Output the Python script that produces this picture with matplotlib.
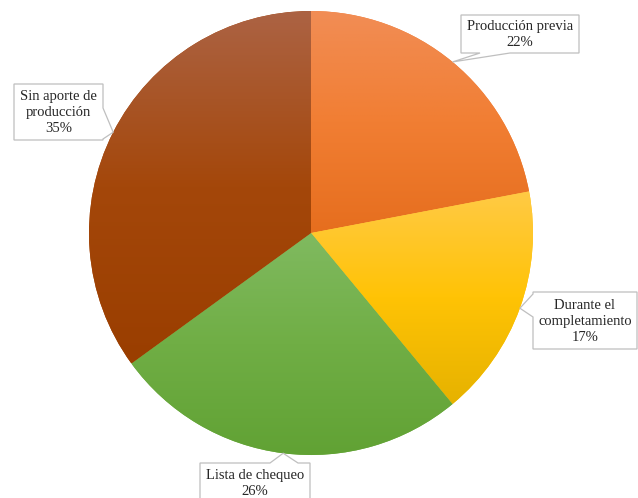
import numpy as np
import matplotlib
matplotlib.use("Agg")
import matplotlib.pyplot as plt
from matplotlib.colors import LinearSegmentedColormap
from matplotlib.patches import Polygon

# Data
categories = ["Producción previa", "Durante el\ncompletamiento", "Lista de chequeo", "Sin aporte de\nproducción"]
shares = [22, 17, 26, 35]

# Three-stop vertical gradients (top, middle, bottom) per slice
gradients = [
    ["#F18D55", "#F17E33", "#E66E1E"],
    ["#FFCA45", "#FFC305", "#E6B200"],
    ["#80BA60", "#70AE45", "#61A234"],
    ["#AC6344", "#A4470A", "#9A3E00"],
]

W, H = 638, 498
fig = plt.figure(figsize=(W / 100, H / 100), dpi=100)
ax = fig.add_axes([0, 0, 1, 1])

center = (311, H - 233)
radius = 222

wedges, _ = ax.pie(shares, center=center, radius=radius, startangle=90,
                   counterclock=False, wedgeprops=dict(linewidth=0))
ax.set_xlim(0, W)
ax.set_ylim(0, H)
ax.set_aspect("equal")
ax.axis("off")

for w, cols in zip(wedges, gradients):
    w.set_facecolor(cols[1])
    ext = w.get_path().get_extents()
    cmap = LinearSegmentedColormap.from_list("g", cols)
    grad = np.linspace(0, 1, 256).reshape(-1, 1)
    im = ax.imshow(grad, cmap=cmap, aspect="auto", origin="upper",
                   extent=(ext.x0, ext.x1, ext.y0, ext.y1),
                   interpolation="bilinear", zorder=2)
    im.set_clip_path(w)
ax.set_xlim(0, W)
ax.set_ylim(0, H)

# Callout boxes: (left, top, right, bottom) in pixel space measured from top,
# plus the side and span of the pointer base.
boxes = [
    dict(rect=(461, 15, 579, 53), side="bottom", base=(480, 510)),
    dict(rect=(533, 292, 637, 349), side="left", base=(294, 317)),
    dict(rect=(200, 463, 310, 520), side="top", base=(270, 298)),
    dict(rect=(14, 84, 103, 140), side="right", base=(108, 139)),
]

mids = 90 - (np.cumsum(shares) - np.array(shares) / 2) / 100 * 360
for cat, val, mid, b in zip(categories, shares, mids, boxes):
    tip = (center[0] + radius * np.cos(np.radians(mid)),
           center[1] + radius * np.sin(np.radians(mid)))
    l, t, r, btm = b["rect"]
    t, btm = H - t, H - btm
    b0, b1 = b["base"]
    if b["side"] == "bottom":
        pts = [(l, t), (r, t), (r, btm), (b1, btm), tip, (b0, btm), (l, btm)]
    elif b["side"] == "left":
        pts = [(l, t), (r, t), (r, btm), (l, btm), (l, H - b1), tip, (l, H - b0)]
    elif b["side"] == "top":
        pts = [(l, t), (b0, t), tip, (b1, t), (r, t), (r, btm), (l, btm)]
    else:
        pts = [(l, t), (r, t), (r, H - b0), tip, (r, H - b1), (r, btm), (l, btm)]
    ax.add_patch(Polygon(pts, closed=True, facecolor="white", edgecolor="#BFBFBF",
                         linewidth=0.9, zorder=4))
    cx = (l + r) / 2
    if b["side"] == "top":
        cy = H - 483
    else:
        cy = (t + btm) / 2 - 0.5
    ax.text(cx, cy, f"{cat}\n{val}%", ha="center", va="center",
            fontsize=10.5, family="Liberation Serif", color="#262626",
            linespacing=1.3, zorder=5)

fig.savefig("out.png", dpi=100)
